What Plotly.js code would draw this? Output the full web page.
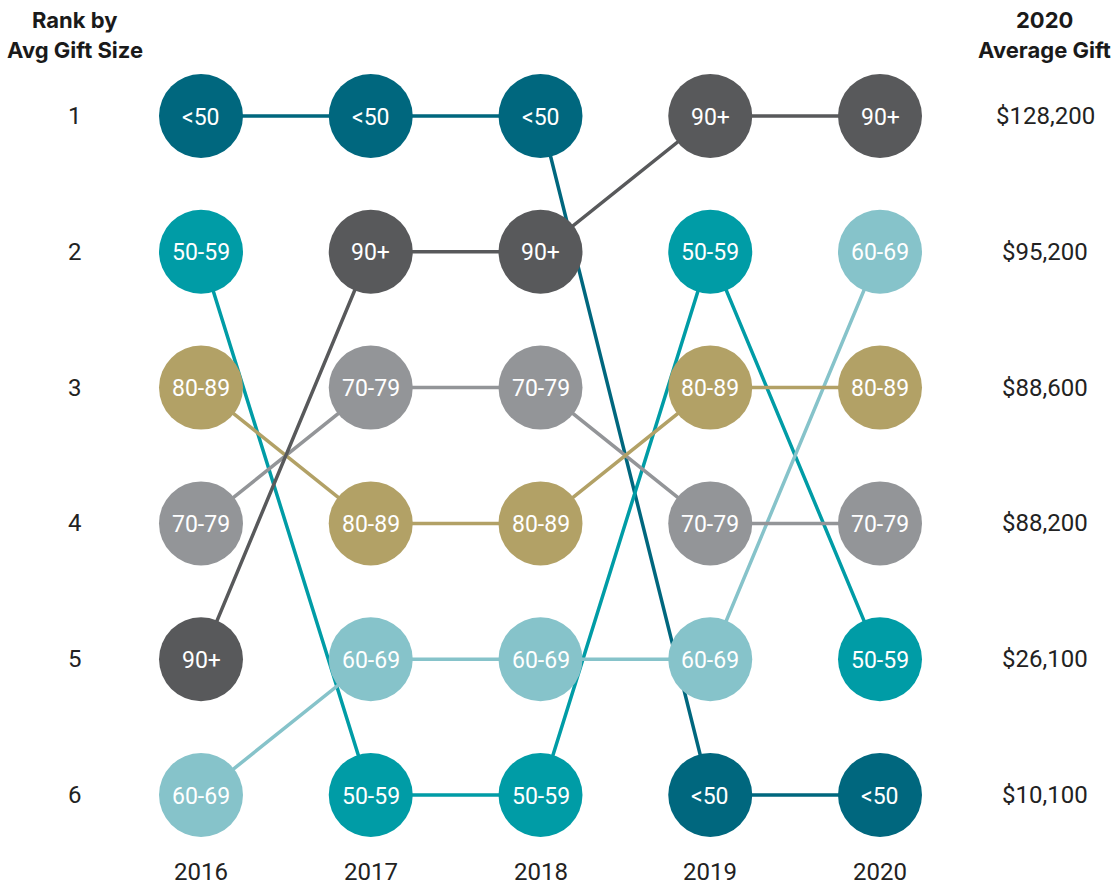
<!DOCTYPE html>
<html>
<head>
<meta charset="utf-8">
<script src="https://cdn.plot.ly/plotly-3.0.1.min.js"></script>
<style>
html,body{margin:0;padding:0;background:#fff;}
#chart{width:1119px;height:886px;}
</style>
</head>
<body>
<div id="chart"></div>
<script>
const years = [2016, 2017, 2018, 2019, 2020];
const groups = ['<50', '50-59', '60-69', '70-79', '80-89', '90+'];
const rankUnder50 = [1, 1, 1, 6, 6];
const rank50s = [2, 6, 6, 2, 5];
const rank60s = [6, 5, 5, 5, 2];
const rank70s = [4, 3, 3, 4, 4];
const rank80s = [3, 4, 4, 3, 3];
const rank90plus = [5, 2, 2, 1, 1];
const rankTicks = [1, 2, 3, 4, 5, 6];
const avgGift2020 = ['$128,200', '$95,200', '$88,600', '$88,200', '$26,100', '$10,100'];

const groupRanks = [rankUnder50, rank50s, rank60s, rank70s, rank80s, rank90plus];
const groupColors = ['#00677E', '#009CA6', '#86C3CA', '#939598', '#B2A166', '#58595B'];

const FONT = 'Roboto, "Liberation Sans", sans-serif';
const pxPerYear = 169.75;
const x0 = 2016 - 201 / pxPerYear;
const x1 = x0 + 1119 / pxPerYear;
const pxPerRank = 135.8;
const yTop = 1 - 116 / pxPerRank;
const yBottom = yTop + 886 / pxPerRank;
const xAt = px => x0 + px / pxPerYear;
const yAt = py => yTop + py / pxPerRank;

const traces = [];
// lines first
groups.forEach((g, i) => {
  traces.push({
    type: 'scatter', mode: 'lines', x: years, y: groupRanks[i],
    line: {color: groupColors[i], width: 3.5}, hoverinfo: 'skip', showlegend: false
  });
});
// circles on top
groups.forEach((g, i) => {
  traces.push({
    type: 'scatter', mode: 'markers', x: years, y: groupRanks[i],
    marker: {size: 84, color: groupColors[i], line: {width: 0}},
    hoverinfo: 'skip', showlegend: false
  });
});

const annotations = [];
groups.forEach((g, i) => {
  years.forEach((yr, j) => {
    annotations.push({x: yr, y: groupRanks[i][j], text: g, showarrow: false,
      xanchor: 'center', yanchor: 'middle', yshift: -1,
      font: {family: FONT, size: 23, color: '#ffffff'}});
  });
});
rankTicks.forEach((r, i) => {
  annotations.push({x: xAt(75), y: r, text: String(r), showarrow: false,
    xanchor: 'center', yanchor: 'middle', font: {family: FONT, size: 24, color: '#222'}});
  annotations.push({x: xAt(1045), y: r, text: avgGift2020[i], showarrow: false,
    xanchor: 'center', yanchor: 'middle', font: {family: FONT, size: 24, color: '#222'}});
});
years.forEach(yr => {
  annotations.push({x: yr, y: yAt(872), text: String(yr), showarrow: false,
    xanchor: 'center', yanchor: 'middle', font: {family: FONT, size: 24, color: '#222'}});
});
annotations.push({x: xAt(75), y: yAt(20), text: 'Rank by', showarrow: false,
  xanchor: 'center', yanchor: 'middle',
  font: {family: 'Inter, sans-serif', size: 22, color: '#1a1a1a', weight: 700}});
annotations.push({x: xAt(75), y: yAt(50), text: 'Avg Gift Size', showarrow: false,
  xanchor: 'center', yanchor: 'middle',
  font: {family: 'Inter, sans-serif', size: 22, color: '#1a1a1a', weight: 700}});
annotations.push({x: xAt(1044), y: yAt(20), text: '2020', showarrow: false,
  xanchor: 'center', yanchor: 'middle',
  font: {family: 'Inter, sans-serif', size: 22, color: '#1a1a1a', weight: 700}});
annotations.push({x: xAt(1044), y: yAt(50), text: 'Average Gift', showarrow: false,
  xanchor: 'center', yanchor: 'middle',
  font: {family: 'Inter, sans-serif', size: 22, color: '#1a1a1a', weight: 700}});

const layout = {
  width: 1119, height: 886,
  margin: {l: 0, r: 0, t: 0, b: 0},
  paper_bgcolor: '#ffffff', plot_bgcolor: '#ffffff',
  xaxis: {range: [x0, x1], visible: false, fixedrange: true},
  yaxis: {range: [yBottom, yTop], visible: false, fixedrange: true},
  annotations: annotations,
  showlegend: false
};

Plotly.newPlot('chart', traces, layout, {displayModeBar: false, staticPlot: true});
</script>
</body>
</html>
